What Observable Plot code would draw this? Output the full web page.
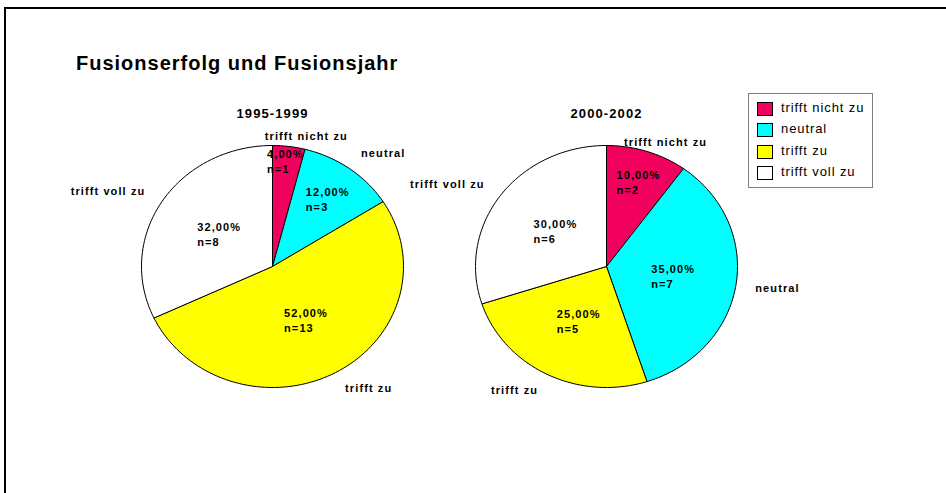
<!DOCTYPE html>
<html>
<head>
<meta charset="utf-8">
<script src="https://cdn.jsdelivr.net/npm/d3@7"></script>
<script src="https://cdn.jsdelivr.net/npm/@observablehq/plot@0.6"></script>
<style>
  html, body { margin: 0; padding: 0; background: #fff; }
  #wrap { position: relative; width: 946px; height: 493px; overflow: hidden; font-family: "Liberation Sans", Arial, sans-serif; }
  #frame { position: absolute; left: 4px; top: 7px; right: -10px; bottom: -10px; border-left: 2px solid #000; border-top: 2px solid #000; }
  #title { position: absolute; left: 76px; top: 53px; font-size: 20px; font-weight: bold; letter-spacing: 1px; line-height: 20px; color: #000; white-space: nowrap; }
  #chart { position: absolute; left: 0; top: 0; }
  #chart svg text { letter-spacing: 1.1px; }
  #legend { position: absolute; left: 748px; top: 93px; width: 125px; height: 95px; border: 1px solid #808080; background: #fff; box-sizing: border-box; }
  .row { position: absolute; left: 8px; height: 16px; }
  .sw { position: absolute; left: 0; top: 0; width: 16px; height: 14px; border: 1px solid #000; box-sizing: border-box; }
  .lt { position: absolute; left: 24px; top: -2px; font-size: 13px; letter-spacing: 0.9px; white-space: nowrap; color: #000; }
</style>
</head>
<body>
<div id="wrap">
  <div id="frame"></div>
  <div id="chart"></div>
  <div id="title">Fusionserfolg und Fusionsjahr</div>
  <div id="legend"></div>
</div>
<script>
// ---- data ----
const title = "Fusionserfolg und Fusionsjahr";
const categories = ["trifft nicht zu", "neutral", "trifft zu", "trifft voll zu"];
const colors = ["#F2005E", "#00FFFF", "#FFFF00", "#FFFFFF"];
const periods = ["1995-1999", "2000-2002"];
const counts1995 = [1, 3, 13, 8];
const counts2000 = [2, 7, 5, 6];

// ---- layout ----
const W = 946, H = 493;
const pies = [
  {period: periods[0], counts: counts1995, cx: 272},
  {period: periods[1], counts: counts2000, cx: 606}
];
const cy = 266, rx = 131, ry = 121;
const fmtPct = v => (v * 100).toFixed(2).replace(".", ",") + "%";
const pt = (cx, f, a) => ({x: cx + rx * f * Math.sin(a), y: cy - ry * f * Math.cos(a)});

const poly = [], inner = [], outer = [], heads = [];
pies.forEach((p, pi) => {
  const total = d3.sum(p.counts);
  let acc = 0;
  heads.push({label: p.period, ...pt(p.cx, 1, 0), y0: cy - ry});
  p.counts.forEach((n, i) => {
    const share = n / total;
    const a0 = acc * 2 * Math.PI, a1 = (acc + share) * 2 * Math.PI;
    acc += share;
    const key = pi + "-" + i;
    const cat = categories[i];
    poly.push({key, cat, x: p.cx, y: cy});
    const steps = Math.max(2, Math.ceil((a1 - a0) / (Math.PI / 90)));
    for (let s = 0; s <= steps; s++) {
      const a = a0 + (a1 - a0) * s / steps;
      poly.push({key, cat, ...pt(p.cx, 1, a)});
    }
    poly.push({key, cat, x: p.cx, y: cy});
    const am = (a0 + a1) / 2;
    const f = 0.5 + 2.4 * Math.max(0, 0.2 - share);
    inner.push({text: fmtPct(share) + "\nn=" + n, ...pt(p.cx, f, am)});
    const s = Math.sin(am);
    const anchor = s > 0.35 ? "start" : s < -0.35 ? "end" : "top";
    outer.push({text: cat, anchor, ...pt(p.cx, anchor === "top" ? 1.05 : 1.15, am)});
  });
});

const chart = Plot.plot({
  width: W, height: H, margin: 0,
  style: {background: "transparent", fontFamily: "'Liberation Sans', Arial, sans-serif", color: "#000"},
  x: {domain: [0, W], range: [0, W], axis: null},
  y: {domain: [0, H], range: [0, H], axis: null},
  color: {domain: categories, range: colors},
  marks: [
    Plot.line(poly, {x: "x", y: "y", z: "key", fill: "cat", stroke: "#000", strokeWidth: 1, strokeLinejoin: "round", curve: "linear"}),
    Plot.text(inner, {x: "x", y: "y", text: "text", textAnchor: "start", dx: -20, lineAnchor: "middle", lineHeight: 1.35, fontSize: 11, fontWeight: "bold", fill: "#000"}),
    Plot.text(outer.filter(d => d.anchor === "start"), {x: "x", y: "y", text: "text", textAnchor: "start", fontSize: 11, fontWeight: "bold", fill: "#000"}),
    Plot.text(outer.filter(d => d.anchor === "end"), {x: "x", y: "y", text: "text", textAnchor: "end", fontSize: 11, fontWeight: "bold", fill: "#000"}),
    Plot.text(outer.filter(d => d.anchor === "top"), {x: "x", y: "y", text: "text", textAnchor: "start", dx: -25, lineAnchor: "bottom", fontSize: 11, fontWeight: "bold", fill: "#000"}),
    Plot.text(heads, {x: "x", y: "y0", dy: -32, text: "label", fontSize: 13, fontWeight: "bold", fill: "#000"})
  ]
});
document.getElementById("chart").appendChild(chart);

// legend
const leg = document.getElementById("legend");
categories.forEach((c, i) => {
  const row = document.createElement("div");
  row.className = "row";
  row.style.top = (8 + i * 21.3) + "px";
  const sw = document.createElement("div");
  sw.className = "sw";
  sw.style.background = colors[i];
  const t = document.createElement("div");
  t.className = "lt";
  t.textContent = c;
  row.appendChild(sw); row.appendChild(t);
  leg.appendChild(row);
});
document.getElementById("title").textContent = title;
</script>
</body>
</html>
